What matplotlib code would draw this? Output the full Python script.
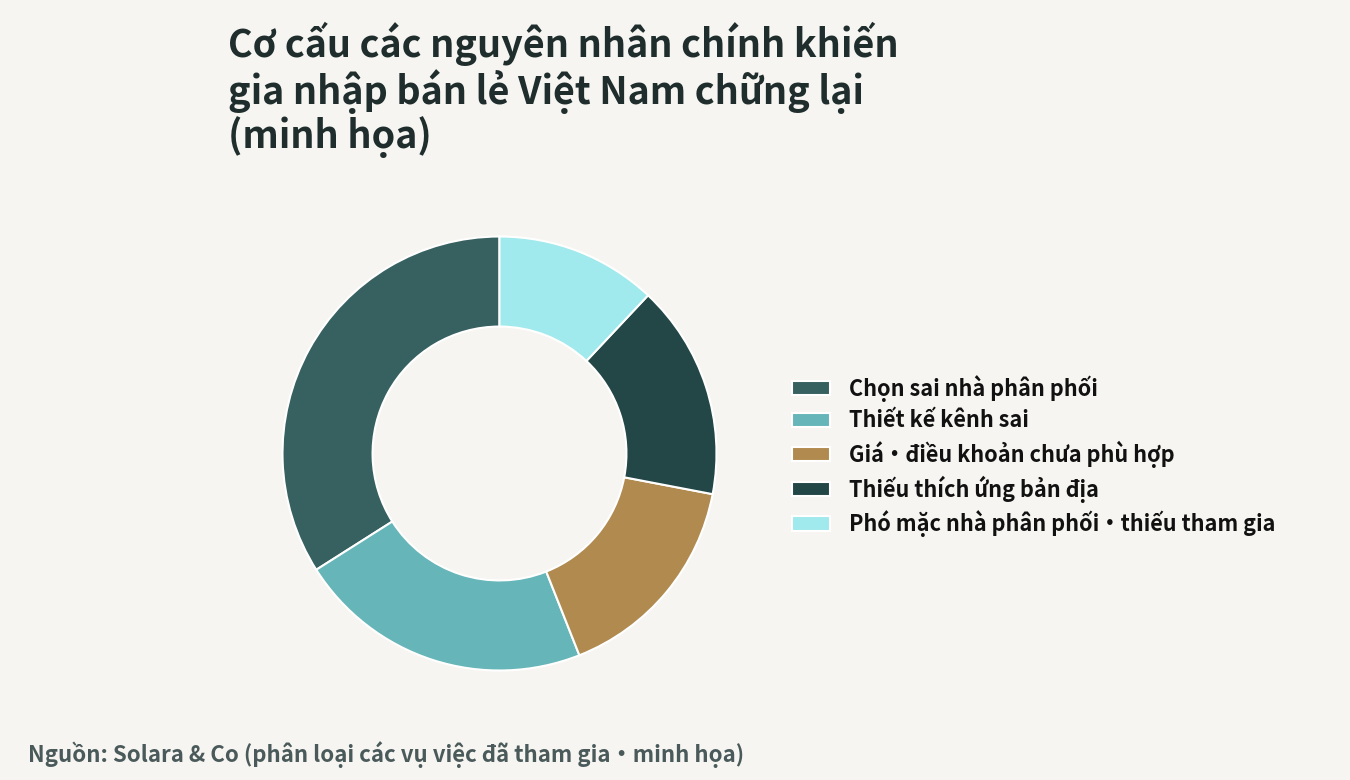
import matplotlib.pyplot as plt
from matplotlib.patches import Patch

plt.rcParams['font.family'] = ['Noto Sans CJK JP', 'DejaVu Sans']

labels = ['Chọn sai nhà phân phối', 'Thiết kế kênh sai', 'Giá・điều khoản chưa phù hợp',
          'Thiếu thích ứng bản địa', 'Phó mặc nhà phân phối・thiếu tham gia']
values = [34, 22, 16, 16, 12]
colors = ['#376060', '#66b5b8', '#b08a4f', '#234747', '#a0e9ec']

title = 'Cơ cấu các nguyên nhân chính khiến\ngia nhập bán lẻ Việt Nam chững lại\n(minh họa)'
source = 'Nguồn: Solara & Co (phân loại các vụ việc đã tham gia・minh họa)'

bg = '#f6f5f1'
fig = plt.figure(figsize=(13.5, 7.8), dpi=100, facecolor=bg)

# donut axes placed in pixels (center ~ (499, 454), r ~ 217)
ax = fig.add_axes([282.5 / 1350, 109.5 / 780, 434 / 1350, 434 / 780])
ax.set_facecolor(bg)
ax.pie(values, colors=colors, startangle=90, counterclock=True,
       wedgeprops=dict(width=0.415, edgecolor='white', linewidth=1.5))
ax.set_xlim(-1, 1)
ax.set_ylim(-1, 1)
ax.set_aspect('equal')
ax.axis('off')

fig.text(228 / 1350, 1 - 22 / 780, title, fontsize=27.2, fontweight='bold',
         color='#1f2d2d', ha='left', va='top', linespacing=1.07)

handles = [Patch(facecolor=c, edgecolor='white', linewidth=1.5) for c in colors]
fig.legend(handles, labels, loc='center left', bbox_to_anchor=(773 / 1350, 1 - 456 / 780),
           frameon=False, prop=dict(weight='bold', size=15.6),
           handlelength=1.75, handleheight=0.65, handletextpad=0.85, labelspacing=0.36,
           labelcolor='#111111')

fig.text(28 / 1350, 1 - 755 / 780, source, fontsize=16, fontweight='bold',
         color='#4a5a5a', ha='left', va='center')

fig.savefig('out.png', dpi=100, facecolor=bg)
